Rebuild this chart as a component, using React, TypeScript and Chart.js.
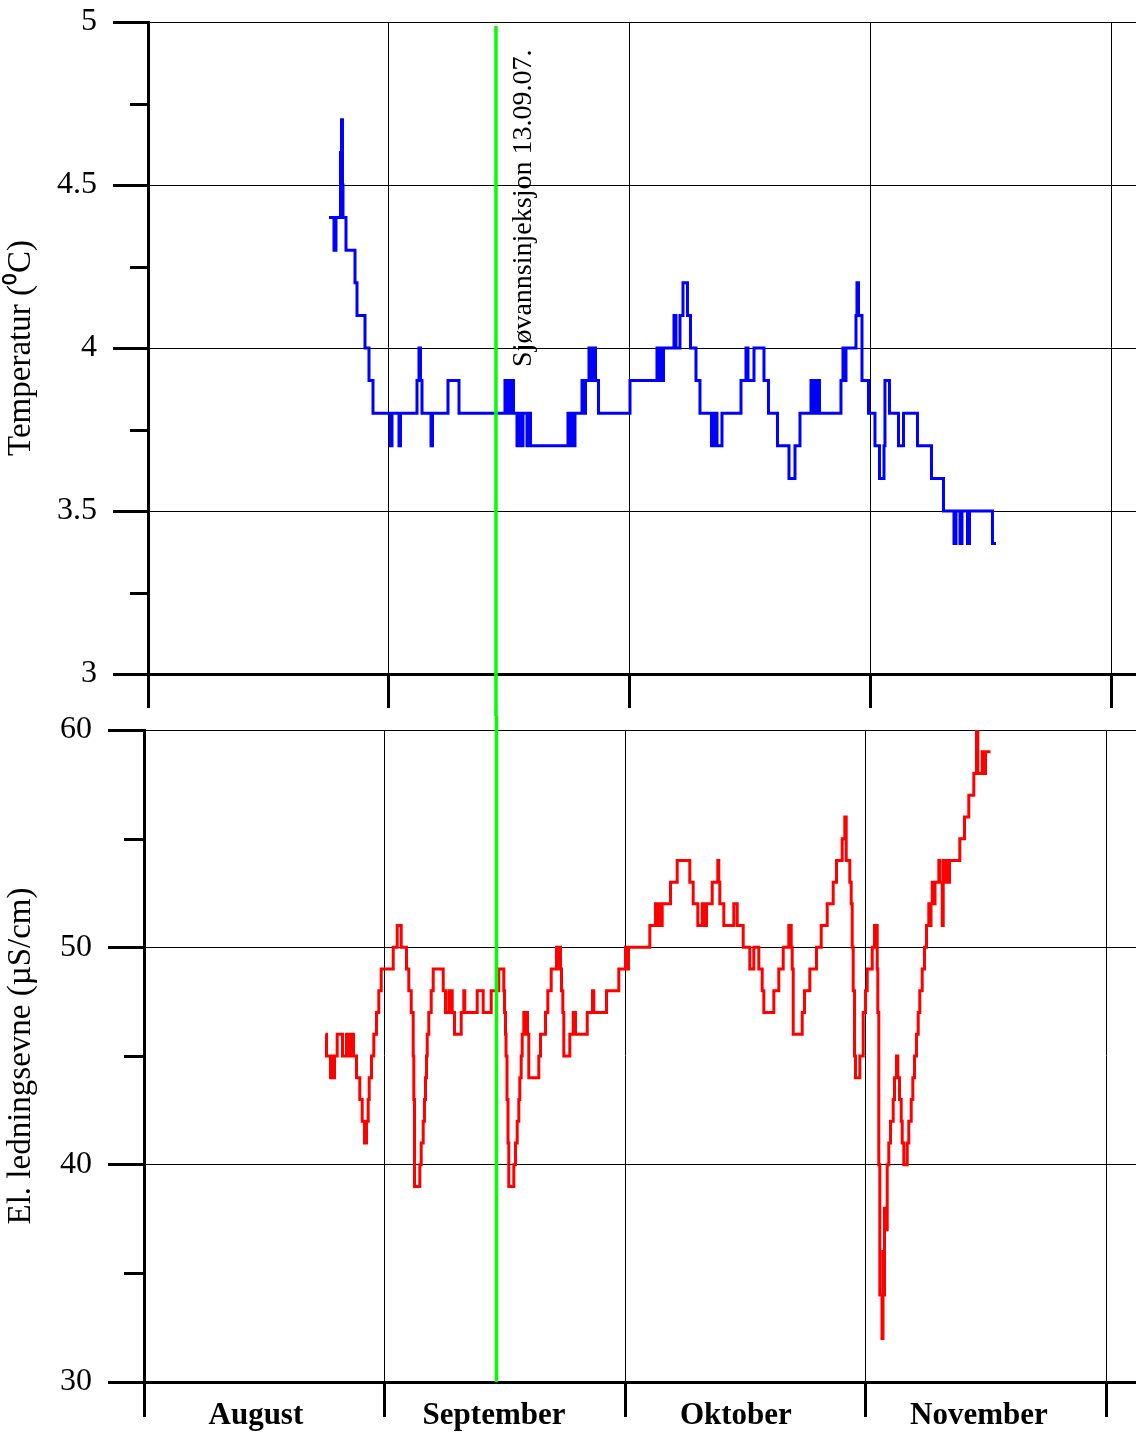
import React, { useEffect, useRef } from 'react';
import { Chart, registerables } from 'chart.js';

Chart.register(...registerables);

// ---- Data (x in months after 1 August: 0 = Aug, 1 = Sep, 2 = Okt, 3 = Nov) ----
const monthLabels = ['August', 'September', 'Oktober', 'November'];
const monthTicks = [0, 1, 2, 3, 4];
const monthLabelPositions = [0.465, 1.455, 2.46, 3.47];

const tempTicks = [3, 3.5, 4, 4.5, 5];
const tempMinorTicks = [3.25, 3.75, 4.25, 4.75];
const condTicks = [30, 40, 50, 60];
const condMinorTicks = [35, 45, 55];

const injectionLabel = 'Sjøvannsinjeksjon 13.09.07.';
const injectionTop = 1.444;
const injectionBottom = 1.465;

const tempTime = [
  0.7511, 0.7718, 0.7801, 0.7988, 0.803, 0.8071, 0.8092, 0.8216, 0.859, 0.8673,
  0.9005, 0.9171, 0.9337, 1.0063, 1.0125, 1.0416, 1.0478, 1.1163, 1.1246, 1.1308,
  1.137, 1.1744, 1.1806, 1.2449, 1.2906, 1.4814, 1.4877, 1.4939, 1.5022, 1.5105,
  1.5167, 1.5312, 1.5395, 1.5458, 1.5561, 1.5727, 1.581, 1.5873, 1.7429, 1.7512,
  1.7574, 1.7636, 1.7719, 1.801, 1.8093, 1.8155, 1.83, 1.8383, 1.8445, 1.857,
  1.8694, 2.0002, 2.1122, 2.1205, 2.1267, 2.1329, 2.1392, 2.1827, 2.191, 2.2076,
  2.2201, 2.2387, 2.2512, 2.274, 2.2906, 2.3383, 2.3446, 2.3508, 2.357, 2.3612,
  2.3819, 2.4608, 2.4815, 2.4898, 2.5147, 2.5562, 2.5749, 2.6122, 2.66, 2.6849,
  2.7056, 2.7513, 2.7575, 2.7637, 2.772, 2.7803, 2.7865, 2.8757, 2.884, 2.8903,
  2.8965, 2.938, 2.9421, 2.9484, 2.9629, 2.9899, 3.0168, 3.0355, 3.0542, 3.0583,
  3.077, 3.1144, 3.1351, 3.1932, 3.2513, 3.3011, 3.3447, 3.353, 3.3696, 3.3779,
  3.4007, 3.409, 3.5044, 3.5189,
];
const tempValue = [
  4.4, 4.3, 4.4, 4.6, 4.7, 4.5, 4.4, 4.3, 4.2, 4.1,
  4.0, 3.9, 3.8, 3.7, 3.8, 3.7, 3.8, 3.9, 4.0, 3.9,
  3.8, 3.7, 3.8, 3.9, 3.8, 3.9, 3.8, 3.9, 3.8, 3.9,
  3.8, 3.7, 3.8, 3.7, 3.8, 3.7, 3.8, 3.7, 3.8, 3.7,
  3.8, 3.7, 3.8, 3.9, 3.8, 3.9, 4.0, 3.9, 4.0, 3.9,
  3.8, 3.9, 4.0, 3.9, 4.0, 3.9, 4.0, 4.1, 4.0, 4.1,
  4.2, 4.1, 4.0, 3.9, 3.8, 3.7, 3.8, 3.7, 3.8, 3.7,
  3.8, 3.9, 4.0, 3.9, 4.0, 3.9, 3.8, 3.7, 3.6, 3.7,
  3.8, 3.9, 3.8, 3.9, 3.8, 3.9, 3.8, 3.9, 4.0, 3.9,
  4.0, 4.1, 4.2, 4.1, 3.9, 3.8, 3.7, 3.6, 3.7, 3.9,
  3.8, 3.7, 3.8, 3.7, 3.6, 3.5, 3.4, 3.5, 3.4, 3.5,
  3.4, 3.5, 3.4, 3.4,
];

const condTime = [
  0.7544, 0.7585, 0.7752, 0.7814, 0.7855, 0.7918, 0.803, 0.825, 0.8417, 0.8479,
  0.8541, 0.8604, 0.8666, 0.8707, 0.8832, 0.8969, 0.9069, 0.9165, 0.9248, 0.9318,
  0.936, 0.9456, 0.9551, 0.9663, 0.9759, 0.9859, 1.0358, 1.0524, 1.069, 1.091,
  1.1006, 1.1106, 1.1189, 1.1214, 1.1243, 1.1463, 1.1521, 1.1604, 1.1658, 1.17,
  1.1742, 1.1771, 1.1837, 1.1937, 1.202, 1.2436, 1.2531, 1.2668, 1.2718, 1.276,
  1.281, 1.2905, 1.3184, 1.3292, 1.3333, 1.3849, 1.4098, 1.4431, 1.4747, 1.4954,
  1.4984, 1.5025, 1.5046, 1.5087, 1.5129, 1.5162, 1.537, 1.5441, 1.5511, 1.5578,
  1.5619, 1.5677, 1.5719, 1.5786, 1.5856, 1.5885, 1.5939, 1.5993, 1.6409, 1.648,
  1.6687, 1.6783, 1.6924, 1.7145, 1.7207, 1.7249, 1.7311, 1.7352, 1.7407, 1.7448,
  1.7698, 1.7839, 1.7934, 1.8421, 1.8641, 1.8695, 1.9223, 1.9734, 2.0012, 2.0075,
  2.0137, 2.1023, 2.1259, 2.1342, 2.1405, 2.1467, 2.1538, 2.1883, 2.2161, 2.2685,
  2.2826, 2.3018, 2.32, 2.3267, 2.3379, 2.3616, 2.3849, 2.389, 2.3932, 2.4098,
  2.4514, 2.4655, 2.4904, 2.5179, 2.5345, 2.5553, 2.5694, 2.5761, 2.6177, 2.6384,
  2.6567, 2.68, 2.69, 2.6941, 2.6983, 2.7357, 2.7453, 2.7673, 2.7951, 2.8147,
  2.8396, 2.8645, 2.8782, 2.9019, 2.9127, 2.9185, 2.9335, 2.9393, 2.9435, 2.9476,
  2.9531, 2.9572, 2.9751, 2.9892, 2.9988, 3.0058, 3.0266, 3.0362, 3.0474, 3.0499,
  3.054, 3.0582, 3.0673, 3.0715, 3.0736, 3.0777, 3.0819, 3.089, 3.0956, 3.1027,
  3.1139, 3.1193, 3.1276, 3.133, 3.1401, 3.1472, 3.1513, 3.158, 3.1721, 3.1787,
  3.1887, 3.1954, 3.2024, 3.2107, 3.2178, 3.2244, 3.2344, 3.244, 3.2523, 3.2618,
  3.2668, 3.271, 3.276, 3.2814, 3.2877, 3.3035, 3.3076, 3.3176, 3.3218, 3.3271,
  3.3334, 3.3396, 3.3479, 3.3907, 3.4102, 3.4281, 3.4489, 3.4601, 3.4655, 3.4838,
  3.4913, 3.4975, 3.5183,
];
const condValue = [
  46, 45, 44, 45, 44, 45, 46, 45, 46, 45,
  46, 45, 46, 45, 44, 43, 42, 41, 42, 43,
  44, 45, 46, 47, 48, 49, 50, 51, 50, 49,
  48, 47, 45, 43, 39, 40, 41, 42, 43, 44,
  45, 46, 47, 48, 49, 48, 47, 48, 47, 48,
  47, 46, 47, 48, 47, 48, 47, 48, 49, 48,
  47, 46, 45, 43, 41, 39, 40, 41, 42, 43,
  44, 45, 46, 47, 46, 47, 46, 44, 45, 46,
  47, 48, 49, 50, 49, 50, 49, 48, 47, 45,
  46, 47, 46, 47, 48, 47, 48, 49, 50, 49,
  50, 51, 52, 51, 52, 51, 52, 53, 54, 53,
  52, 51, 52, 51, 52, 53, 54, 53, 52, 51,
  52, 51, 50, 49, 50, 49, 48, 47, 48, 49,
  50, 51, 50, 49, 46, 47, 48, 49, 50, 51,
  52, 53, 54, 55, 56, 54, 53, 52, 50, 48,
  45, 44, 45, 47, 48, 49, 50, 51, 49, 47,
  40, 34, 32, 36, 34, 38, 37, 40, 41, 42,
  43, 44, 45, 44, 43, 42, 41, 40, 41, 42,
  43, 44, 45, 46, 47, 48, 49, 50, 51, 52,
  51, 52, 53, 52, 53, 54, 53, 51, 54, 53,
  54, 53, 54, 55, 56, 57, 58, 60, 58, 59,
  58, 59, 59,
];

const SERIF = '"Liberation Serif", "Times New Roman", serif';
const isMonthTick = (v: number) => monthTicks.includes(v);

function noPad(s: any) {
  s.paddingTop = 0;
  s.paddingBottom = 0;
  s.paddingLeft = 0;
  s.paddingRight = 0;
}

function minorTickPlugin(values: number[], len: number) {
  return {
    id: 'minorTicks',
    afterDraw(chart: any) {
      const { ctx, chartArea, scales } = chart;
      ctx.save();
      ctx.strokeStyle = '#000';
      ctx.lineWidth = 3;
      values.forEach((v) => {
        const y = Math.round(scales.y.getPixelForValue(v)) + 0.5;
        ctx.beginPath();
        ctx.moveTo(chartArea.left - len, y);
        ctx.lineTo(chartArea.left, y);
        ctx.stroke();
      });
      ctx.restore();
    },
  };
}

function injectionPlugin(xValue: number, top: boolean) {
  return {
    id: 'injection',
    afterDraw(chart: any) {
      const { ctx, chartArea, scales } = chart;
      const x = scales.x.getPixelForValue(xValue);
      ctx.save();
      ctx.strokeStyle = '#00ff00';
      ctx.lineWidth = 3.5;
      ctx.beginPath();
      if (top) {
        ctx.moveTo(x, chartArea.top + 4);
        ctx.lineTo(x, chart.height);
      } else {
        ctx.moveTo(x, 0);
        ctx.lineTo(x, chartArea.bottom);
      }
      ctx.stroke();
      if (top) {
        ctx.translate(x + 35, scales.y.getPixelForValue(3.942));
        ctx.rotate(-Math.PI / 2);
        ctx.font = `28px ${SERIF}`;
        ctx.fillStyle = '#000';
        ctx.textAlign = 'left';
        ctx.textBaseline = 'alphabetic';
        ctx.fillText(injectionLabel, 0, 0);
      }
      ctx.restore();
    },
  };
}

function xScale(max: number, height: number, showLabels: boolean, tickLen: number) {
  return {
    type: 'linear',
    min: 0,
    max,
    afterBuildTicks: (s: any) => {
      const vals = showLabels
        ? [...monthTicks, ...monthLabelPositions].sort((a, b) => a - b)
        : monthTicks;
      s.ticks = vals.map((v) => ({ value: v }));
    },
    afterFit: (s: any) => {
      s.height = height;
      noPad(s);
    },
    ticks: {
      display: showLabels,
      autoSkip: false,
      maxRotation: 0,
      minRotation: 0,
      padding: -20,
      color: '#000',
      font: { family: SERIF, size: 31, weight: 'bold' },
      callback: (v: number) => {
        const i = monthLabelPositions.indexOf(v);
        return i >= 0 ? monthLabels[i] : '';
      },
    },
    grid: {
      color: (c: any) => (isMonthTick(c.tick?.value) ? '#000' : 'rgba(0,0,0,0)'),
      tickColor: (c: any) => (isMonthTick(c.tick?.value) ? '#000' : 'rgba(0,0,0,0)'),
      lineWidth: 1,
      tickWidth: 3,
      tickLength: tickLen,
    },
    border: { color: '#000', width: 3 },
  };
}

function yScale(min: number, max: number, ticks: number[], width: number, tickLen: number, title: string) {
  return {
    type: 'linear',
    min,
    max,
    afterBuildTicks: (s: any) => {
      s.ticks = ticks.map((v) => ({ value: v }));
    },
    afterFit: (s: any) => {
      s.width = width;
      noPad(s);
    },
    ticks: {
      color: '#000',
      padding: 16,
      font: { family: SERIF, size: 32 },
      callback: (v: number) => String(v),
    },
    grid: { color: '#000', lineWidth: 1, tickWidth: 3, tickLength: tickLen, tickColor: '#000' },
    border: { color: '#000', width: 3 },
    title: {
      display: true,
      text: title,
      color: '#000',
      font: { family: SERIF, size: 33 },
      padding: { top: 2, bottom: 0 },
    },
  };
}

export default function App() {
  const topRef = useRef<HTMLCanvasElement>(null);
  const botRef = useRef<HTMLCanvasElement>(null);

  useEffect(() => {
    const common = {
      animation: false,
      responsive: false,
      maintainAspectRatio: false,
      devicePixelRatio: 1,
      events: [],
      plugins: { legend: { display: false }, tooltip: { enabled: false } },
    };

    const top = new Chart(topRef.current as HTMLCanvasElement, {
      type: 'line',
      data: {
        datasets: [
          {
            data: tempTime.map((t, i) => ({ x: t, y: tempValue[i] })),
            borderColor: '#0000ff',
            borderWidth: 3,
            stepped: true,
            pointRadius: 0,
            fill: false,
          },
        ],
      },
      options: {
        ...common,
        layout: { autoPadding: false, padding: { top: 22, left: 0, right: 0, bottom: 0 } },
        scales: {
          x: xScale(4.1, 42, false, 34),
          y: yScale(3, 5, tempTicks, 148, 35, 'Temperatur (⁰C)'),
        },
      } as any,
      plugins: [minorTickPlugin(tempMinorTicks, 18), injectionPlugin(injectionTop, true)],
    });

    const bottom = new Chart(botRef.current as HTMLCanvasElement, {
      type: 'line',
      data: {
        datasets: [
          {
            data: condTime.map((t, i) => ({ x: t, y: condValue[i] })),
            borderColor: '#ff0000',
            borderWidth: 3,
            stepped: true,
            pointRadius: 0,
            fill: false,
          },
        ],
      },
      options: {
        ...common,
        layout: { autoPadding: false, padding: { top: 14, left: 0, right: 0, bottom: 0 } },
        scales: {
          x: xScale(4.123, 52, true, 35),
          y: yScale(30, 60, condTicks, 144, 36, 'El. ledningsevne (µS/cm)'),
        },
      } as any,
      plugins: [minorTickPlugin(condMinorTicks, 20), injectionPlugin(injectionBottom, false)],
    });

    return () => {
      top.destroy();
      bottom.destroy();
    };
  }, []);

  return (
    <div style={{ position: 'absolute', left: 0, top: 0, width: 1136, height: 1434, background: '#fff' }}>
      <canvas ref={topRef} width={1136} height={716} style={{ position: 'absolute', left: 0, top: 0, display: 'block' }} />
      <canvas ref={botRef} width={1136} height={718} style={{ position: 'absolute', left: 0, top: 716, display: 'block' }} />
    </div>
  );
}
